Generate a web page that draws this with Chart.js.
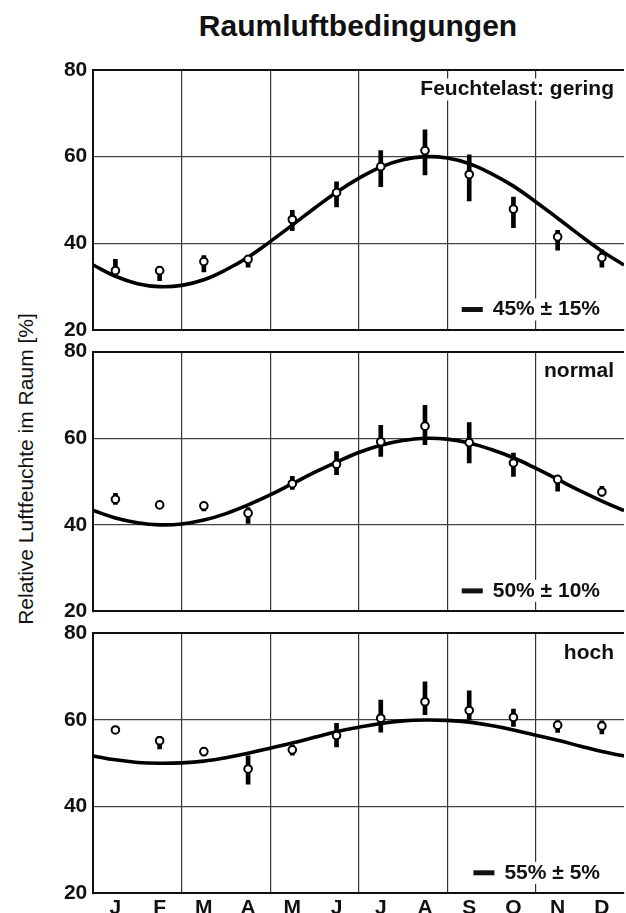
<!DOCTYPE html>
<html>
<head>
<meta charset="utf-8">
<script src="https://cdn.jsdelivr.net/npm/chart.js@4.4.0/dist/chart.umd.min.js"></script>
<style>
  html, body { margin: 0; padding: 0; background: #fff; overflow: hidden; width: 626px; height: 913px; }
  #wrap { position: relative; width: 630px; height: 913px; }
  canvas { position: absolute; left: 0; }
  #titel { position: absolute; left: 0; top: 11px; width: 716px; text-align: center;
           font: bold 30px "Liberation Sans", Arial, sans-serif; line-height: 30px; color: #111; }
  #ylabel { position: absolute; left: -174px; top: 457px; width: 400px; height: 24px; line-height: 24px;
            text-align: center; transform: rotate(-90deg);
            font: 21px "Liberation Sans", Arial, sans-serif; color: #111; }
</style>
</head>
<body>
<div id="wrap">
  <div id="titel">Raumluftbedingungen</div>
  <div id="ylabel">Relative Luftfeuchte im Raum [%]</div>
  <canvas id="c1" width="630" height="300" style="top:50px"></canvas>
  <canvas id="c2" width="630" height="300" style="top:330px"></canvas>
  <canvas id="c3" width="630" height="301" style="top:612px"></canvas>
</div>
<script>
// --- DATEN ---
const monate = ['J', 'F', 'M', 'A', 'M', 'J', 'J', 'A', 'S', 'O', 'N', 'D'];
const monatsIndex = [0, 1, 2, 3, 4, 5, 6, 7, 8, 9, 10, 11];
const trennlinien = [1.5, 3.5, 5.5, 7.5, 9.5];
const yTicks = [20, 40, 60, 80];

// Sollkurven (halbmonatlich)
const kurveX = [-0.5, 0, 0.5, 1, 1.5, 2, 2.5, 3, 3.5, 4, 4.5, 5, 5.5, 6, 6.5, 7, 7.5, 8, 8.5, 9, 9.5, 10, 10.5, 11, 11.5];
const kurveGering = [35.0, 32.4, 30.7, 30.0, 30.3, 31.6, 33.9, 36.8, 40.4, 44.2, 48.1, 51.8, 55.0, 57.6, 59.3, 60.0, 59.7, 58.4, 56.1, 53.2, 49.6, 45.8, 41.9, 38.2, 35.0];
const kurveNormal = [43.3, 41.6, 40.5, 40.0, 40.2, 41.1, 42.6, 44.6, 46.9, 49.5, 52.1, 54.5, 56.7, 58.4, 59.5, 60.0, 59.8, 58.9, 57.4, 55.5, 53.1, 50.5, 47.9, 45.5, 43.3];
const kurveHoch = [51.7, 50.8, 50.2, 50.0, 50.1, 50.5, 51.3, 52.3, 53.5, 54.7, 56.0, 57.3, 58.3, 59.2, 59.8, 60.0, 59.9, 59.5, 58.7, 57.7, 56.5, 55.3, 54.0, 52.7, 51.7];

// Messwerte: Mittel + Streubereich
const mittelGering = [33.7, 33.7, 35.8, 36.3, 45.5, 51.7, 57.7, 61.4, 55.9, 47.9, 41.5, 36.7];
const untenGering = [32.8, 31.4, 33.4, 34.5, 42.9, 48.4, 53.1, 55.8, 49.8, 43.6, 38.4, 34.5];
const obenGering = [36.3, 34.6, 37.2, 36.8, 47.6, 54.2, 61.4, 66.2, 60.4, 50.7, 43.0, 38.5];

const mittelNormal = [45.9, 44.6, 44.4, 42.7, 49.5, 54.0, 59.2, 62.8, 59.0, 54.3, 50.5, 47.6];
const untenNormal = [44.7, 44.2, 43.2, 40.3, 48.2, 51.6, 55.8, 58.5, 54.3, 51.2, 47.8, 46.6];
const obenNormal = [47.3, 45.0, 45.1, 44.0, 51.2, 56.9, 63.0, 67.6, 63.6, 56.6, 51.4, 48.9];

const mittelHoch = [57.7, 55.2, 52.7, 48.7, 53.1, 56.4, 60.4, 64.2, 62.2, 60.6, 58.8, 58.6];
const untenHoch = [57.2, 53.3, 51.7, 45.2, 51.9, 53.8, 57.2, 61.2, 60.0, 58.5, 57.1, 56.8];
const obenHoch = [58.2, 56.2, 53.7, 51.7, 54.2, 59.2, 64.6, 68.8, 66.7, 62.5, 59.8, 59.8];

const FONT = '"Liberation Sans", Arial, Helvetica, sans-serif';

// --- Beschriftung im Diagramm (oben rechts + Sollwert unten rechts) ---
const beschriftungPlugin = {
    id: 'beschriftung',
    beforeDatasetsDraw(chart, args, opts) {
        const { ctx, chartArea: a } = chart;
        ctx.save();
        ctx.font = 'bold 21px ' + FONT;
        ctx.textBaseline = 'middle';
        ctx.textAlign = 'right';

        let w = ctx.measureText(opts.oben).width;
        let xr = a.right - 10, y = a.top + 19.5;
        ctx.fillStyle = '#fff';
        ctx.fillRect(xr - w - 4, y - 11, w + 8, 22);
        ctx.fillStyle = '#111';
        ctx.fillText(opts.oben, xr, y);

        w = ctx.measureText(opts.unten).width;
        xr = a.right - 24; y = a.bottom - 20.5;
        const start = xr - w;
        ctx.fillStyle = '#fff';
        ctx.fillRect(start - 36, y - 11, w + 40, 22);
        ctx.fillStyle = '#111';
        ctx.fillText(opts.unten, xr, y);
        ctx.fillRect(start - 31, y - 2.5, 21, 5);
        ctx.restore();
    }
};

function tickWert(c) {
    return c && c.tick ? c.tick.value : null;
}

function baueDiagramm(id, kurve, mittel, unten, oben, textOben, textUnten, mitMonaten, padTop, padBottom) {
    const ctx = document.getElementById(id).getContext('2d');
    return new Chart(ctx, {
        type: 'line',
        data: {
            datasets: [
                {
                    // Messpunkte
                    type: 'line',
                    data: monatsIndex.map(i => ({ x: i, y: mittel[i] })),
                    showLine: false,
                    pointRadius: 3.8,
                    pointBorderWidth: 2,
                    pointBackgroundColor: '#fff',
                    pointBorderColor: '#000',
                    order: 0
                },
                {
                    // Sollkurve
                    type: 'line',
                    data: kurveX.map((x, i) => ({ x: x, y: kurve[i] })),
                    borderColor: '#000',
                    borderWidth: 3.6,
                    pointRadius: 0,
                    tension: 0.4,
                    fill: false,
                    order: 1
                },
                {
                    // Streubalken
                    type: 'bar',
                    data: monatsIndex.map(i => ({ x: i, y: [unten[i], oben[i]] })),
                    backgroundColor: '#000',
                    barThickness: 4,
                    order: 2
                }
            ]
        },
        options: {
            responsive: false,
            animation: false,
            devicePixelRatio: 1,
            layout: { padding: { top: padTop, bottom: padBottom, left: 0, right: 0 } },
            plugins: {
                legend: { display: false },
                tooltip: { enabled: false },
                beschriftung: { oben: textOben, unten: textUnten }
            },
            scales: {
                x: {
                    type: 'linear',
                    min: -0.5,
                    max: 11.5,
                    offset: false,
                    afterBuildTicks: s => {
                        s.ticks = monatsIndex.concat(trennlinien).sort((p, q) => p - q).map(v => ({ value: v }));
                    },
                    afterFit: s => { s.height = mitMonaten ? 19.7 : 0; },
                    ticks: {
                        display: mitMonaten,
                        autoSkip: false,
                        maxRotation: 0,
                        padding: 2,
                        color: '#111',
                        font: { family: FONT, size: 21, weight: 'bold' },
                        callback: v => Number.isInteger(v) ? monate[v] : ''
                    },
                    grid: {
                        offset: false,
                        drawTicks: false,
                        color: c => trennlinien.includes(tickWert(c)) ? '#333' : 'rgba(0,0,0,0)',
                        lineWidth: 1.2
                    },
                    border: { display: true, color: '#111', width: 2 }
                },
                y: {
                    min: 20,
                    max: 80,
                    afterBuildTicks: s => { s.ticks = yTicks.map(v => ({ value: v })); },
                    afterFit: s => { s.width = 93.3; },
                    ticks: {
                        padding: 6,
                        color: '#111',
                        font: { family: FONT, size: 21, weight: 'bold' }
                    },
                    grid: {
                        drawTicks: false,
                        color: c => tickWert(c) === 80 ? '#111' : (tickWert(c) === 20 ? 'rgba(0,0,0,0)' : '#444'),
                        lineWidth: c => tickWert(c) === 80 ? 2 : 1.2
                    },
                    border: { display: true, color: '#111', width: 2 }
                }
            }
        },
        plugins: [beschriftungPlugin]
    });
}

baueDiagramm('c1', kurveGering, mittelGering, untenGering, obenGering, 'Feuchtelast: gering', '45% ± 15%', false, 20, 20);
baueDiagramm('c2', kurveNormal, mittelNormal, untenNormal, obenNormal, 'normal', '50% ± 10%', false, 21.7, 18.3);
baueDiagramm('c3', kurveHoch, mittelHoch, untenHoch, obenHoch, 'hoch', '55% ± 5%', true, 21.3, 0);
</script>
</body>
</html>
